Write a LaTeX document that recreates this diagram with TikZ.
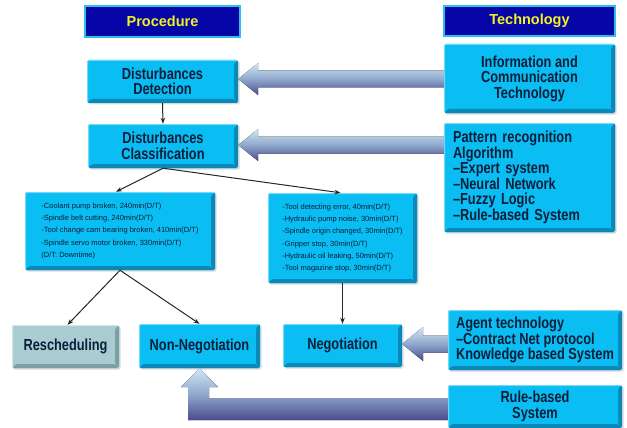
\documentclass[tikz,border=0pt]{standalone}
\usepackage{fontspec}
\setmainfont{Liberation Sans}
\newfontfamily\boxfont{Liberation Sans}[FakeStretch=0.8]
\usetikzlibrary{shadows,arrows.meta}
\definecolor{boxcyan}{HTML}{0ABDF2}
\definecolor{boxdark}{HTML}{0A88B8}
\definecolor{boxlight}{HTML}{70D8F8}
\definecolor{greyfill}{HTML}{A8CCD1}
\definecolor{greydark}{HTML}{7AA0A6}
\definecolor{greylight}{HTML}{CFE6E9}
\definecolor{hdrblue}{HTML}{0606A6}
\definecolor{hdredge}{HTML}{2CBFE8}
\definecolor{hdrtext}{HTML}{F2F226}
\definecolor{txt}{HTML}{0B1E3A}
\definecolor{arrlight}{HTML}{D2E6F4}
\definecolor{arrmid}{HTML}{8FA8CC}
\definecolor{arrdark}{HTML}{4A4B8D}
\tikzset{
  bevel/.style 2 args={path picture={
    \fill[#1] (path picture bounding box.south west) -- (path picture bounding box.south east)
      -- ([shift={(-4pt,4pt)}]path picture bounding box.south east)
      -- ([shift={(4pt,4pt)}]path picture bounding box.south west) -- cycle;
    \fill[#1] (path picture bounding box.south east) -- (path picture bounding box.north east)
      -- ([shift={(-4pt,-4pt)}]path picture bounding box.north east)
      -- ([shift={(-4pt,4pt)}]path picture bounding box.south east) -- cycle;
    \draw[#2, line width=1pt] ([shift={(0.5pt,0.5pt)}]path picture bounding box.south west)
      -- ([shift={(0.5pt,-0.5pt)}]path picture bounding box.north west)
      -- ([shift={(-0.5pt,-0.5pt)}]path picture bounding box.north east);
  }},
  sbox/.style={fill=boxcyan, rounded corners=1.5pt, inner sep=0pt, bevel={boxdark}{boxlight},
    text=txt, align=center,
    drop shadow={opacity=0.3, shadow xshift=1.5pt, shadow yshift=-1.5pt}},
  bigtext/.style={font=\boxfont\bfseries\fontsize{16}{15.5}\selectfont},
  smalltext/.style={font=\fontsize{7.5}{12.2}\selectfont, align=left},
  greybox/.style={sbox, fill=greyfill, bevel={greydark}{greylight}},
  hdr/.style={draw=hdredge, line width=1.3pt, fill=hdrblue, text=hdrtext, inner sep=0pt,
    font=\bfseries\fontsize{14.5}{15}\selectfont},
  thin/.style={draw=black!85, line width=1pt, -{Stealth[length=6pt,width=4.5pt]}},
  blockarr/.style={top color=arrlight, bottom color=arrdark, middle color=arrmid}
}
\begin{document}
\begin{tikzpicture}[x=1pt,y=-1pt]
\useasboundingbox (0,0) rectangle (627,428);
% headers
\node[hdr, minimum width=155pt, minimum height=31pt] (proc) at (162.5,21.5) {Procedure};
\node[hdr, minimum width=171pt, minimum height=30pt] (tech) at (529.5,21) {Technology};
% procedure boxes
\node[sbox, bigtext, minimum width=151pt, minimum height=43pt] (det) at (162.5,81.5) {Disturbances\\Detection};
\node[sbox, bigtext, minimum width=150pt, minimum height=44pt] (cls) at (163,146) {Disturbances\\Classification};
\node[sbox, smalltext, minimum width=190pt, minimum height=78pt] (list1) at (120,231)
  {-Coolant pump broken, 240min(D/T)\\-Spindle belt cutting, 240min(D/T)\\-Tool change cam bearing broken, 410min(D/T)\\-Spindle servo motor broken, 330min(D/T)\\(D/T: Downtime)};
\node[sbox, smalltext, minimum width=149pt, minimum height=90pt] (list2) at (342.5,238)
  {-Tool detecting error, 40min(D/T)\\-Hydraulic pump noise, 30min(D/T)\\-Spindle origin changed, 30min(D/T)\\-Gripper stop, 30min(D/T)\\-Hydraulic oil leaking, 50min(D/T)\\-Tool magazine stop, 30min(D/T)};
\node[greybox, bigtext, minimum width=107pt, minimum height=43pt] (resch) at (65.5,346.5) {Rescheduling};
\node[sbox, bigtext, minimum width=121pt, minimum height=44pt] (nonneg) at (199.5,346) {Non-Negotiation};
\node[sbox, bigtext, minimum width=119pt, minimum height=43pt] (neg) at (342.5,345.5) {Negotiation};
% technology boxes
\node[sbox, bigtext, minimum width=171pt, minimum height=69pt] (ict) at (529.5,78.5) {Information and\\Communication\\Technology};
\node[sbox, bigtext, align=left, text width=153pt, minimum width=171pt, minimum height=109pt] (pat) at (529.5,177.5)
  {Pattern recognition\\Algorithm\\–Expert system\\–Neural Network\\–Fuzzy Logic\\–Rule-based System};
\node[sbox, bigtext, align=left, minimum width=174pt, minimum height=60pt] (agent) at (535,340)
  {Agent technology\\–Contract Net protocol\\Knowledge based System};
\node[sbox, bigtext, minimum width=174pt, minimum height=43pt] (rule) at (535,406.5) {Rule-based\\System};
% block arrows
\fill[blockarr] (det.east |- 0,79) -- (258,63) -- (258,70.5) -- (ict.west |- 0,70.5) -- (ict.west |- 0,87.5) -- (258,87.5) -- (258,95) -- cycle;
\fill[blockarr] (cls.east |- 0,145) -- (258,129) -- (258,136.5) -- (pat.west |- 0,136.5) -- (pat.west |- 0,153.5) -- (258,153.5) -- (258,161) -- cycle;
\fill[blockarr] (neg.east |- 0,344) -- (423,327) -- (423,335.5) -- (agent.west |- 0,335.5) -- (agent.west |- 0,352.5) -- (423,352.5) -- (423,361) -- cycle;
\fill[blockarr] (nonneg.south) -- (218,387) -- (209,387) -- (209,398) -- (rule.west |- 0,398) -- (rule.west |- 0,420) -- (188,420) -- (188,387) -- (181,387) -- cycle;
% thin arrows
\draw[thin] (det.south) -- (cls.north);
\draw[thin] (cls.south) -- ([xshift=-4pt]list1.north);
\draw[thin] (cls.south) -- ([xshift=-2pt]list2.north);
\draw[thin] (list1.south) -- ([xshift=2pt]resch.north);
\draw[thin] (list1.south) -- (nonneg.north);
\draw[thin] (list2.south) -- (neg.north);
\end{tikzpicture}
\end{document}
